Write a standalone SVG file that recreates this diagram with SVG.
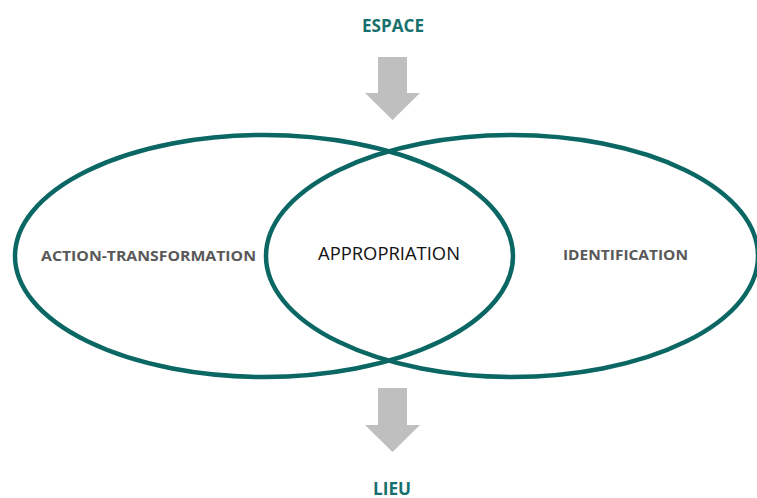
<svg xmlns="http://www.w3.org/2000/svg" width="757" height="498" viewBox="0 0 757 498">
<style>
.ring{fill:none;stroke:#0B6763;stroke-width:4.5}
.arrow{fill:#BFBFBF}
.title{font-family:"Open Sans","Liberation Sans",Arial,sans-serif;font-weight:bold;fill:#16716C;text-anchor:middle}
.lab{font-family:"Open Sans","Liberation Sans",Arial,sans-serif;font-weight:bold;fill:#595959;text-anchor:middle}
.mid{font-family:"Open Sans","Liberation Sans",Arial,sans-serif;fill:#111111;text-anchor:middle}
</style>
<rect width="757" height="498" fill="#ffffff"/>
<g id="connectors">
<polygon class="arrow" points="378,57 407,57 407,93 420,93 392.5,120 365,93 378,93"/>
<polygon class="arrow" points="378,388 407,388 407,425 420,425 392.5,452 365,425 378,425"/>
</g>
<g id="espace"><text class="title" x="393" y="32" font-size="18" textLength="62" lengthAdjust="spacingAndGlyphs">ESPACE</text></g>
<g id="action-transformation">
<ellipse class="ring" cx="264" cy="256" rx="249" ry="121"/>
<text class="lab" x="148.5" y="261" font-size="14.5" textLength="215" lengthAdjust="spacingAndGlyphs">ACTION-TRANSFORMATION</text>
</g>
<g id="identification">
<ellipse class="ring" cx="512" cy="256" rx="246" ry="121"/>
<text class="lab" x="625.5" y="259.5" font-size="14.5" textLength="125" lengthAdjust="spacingAndGlyphs">IDENTIFICATION</text>
</g>
<g id="appropriation"><text class="mid" x="389" y="260" font-size="18" textLength="142" lengthAdjust="spacingAndGlyphs">APPROPRIATION</text></g>
<g id="lieu"><text class="title" x="392" y="494.5" font-size="17.5" textLength="38" lengthAdjust="spacingAndGlyphs">LIEU</text></g>
</svg>
